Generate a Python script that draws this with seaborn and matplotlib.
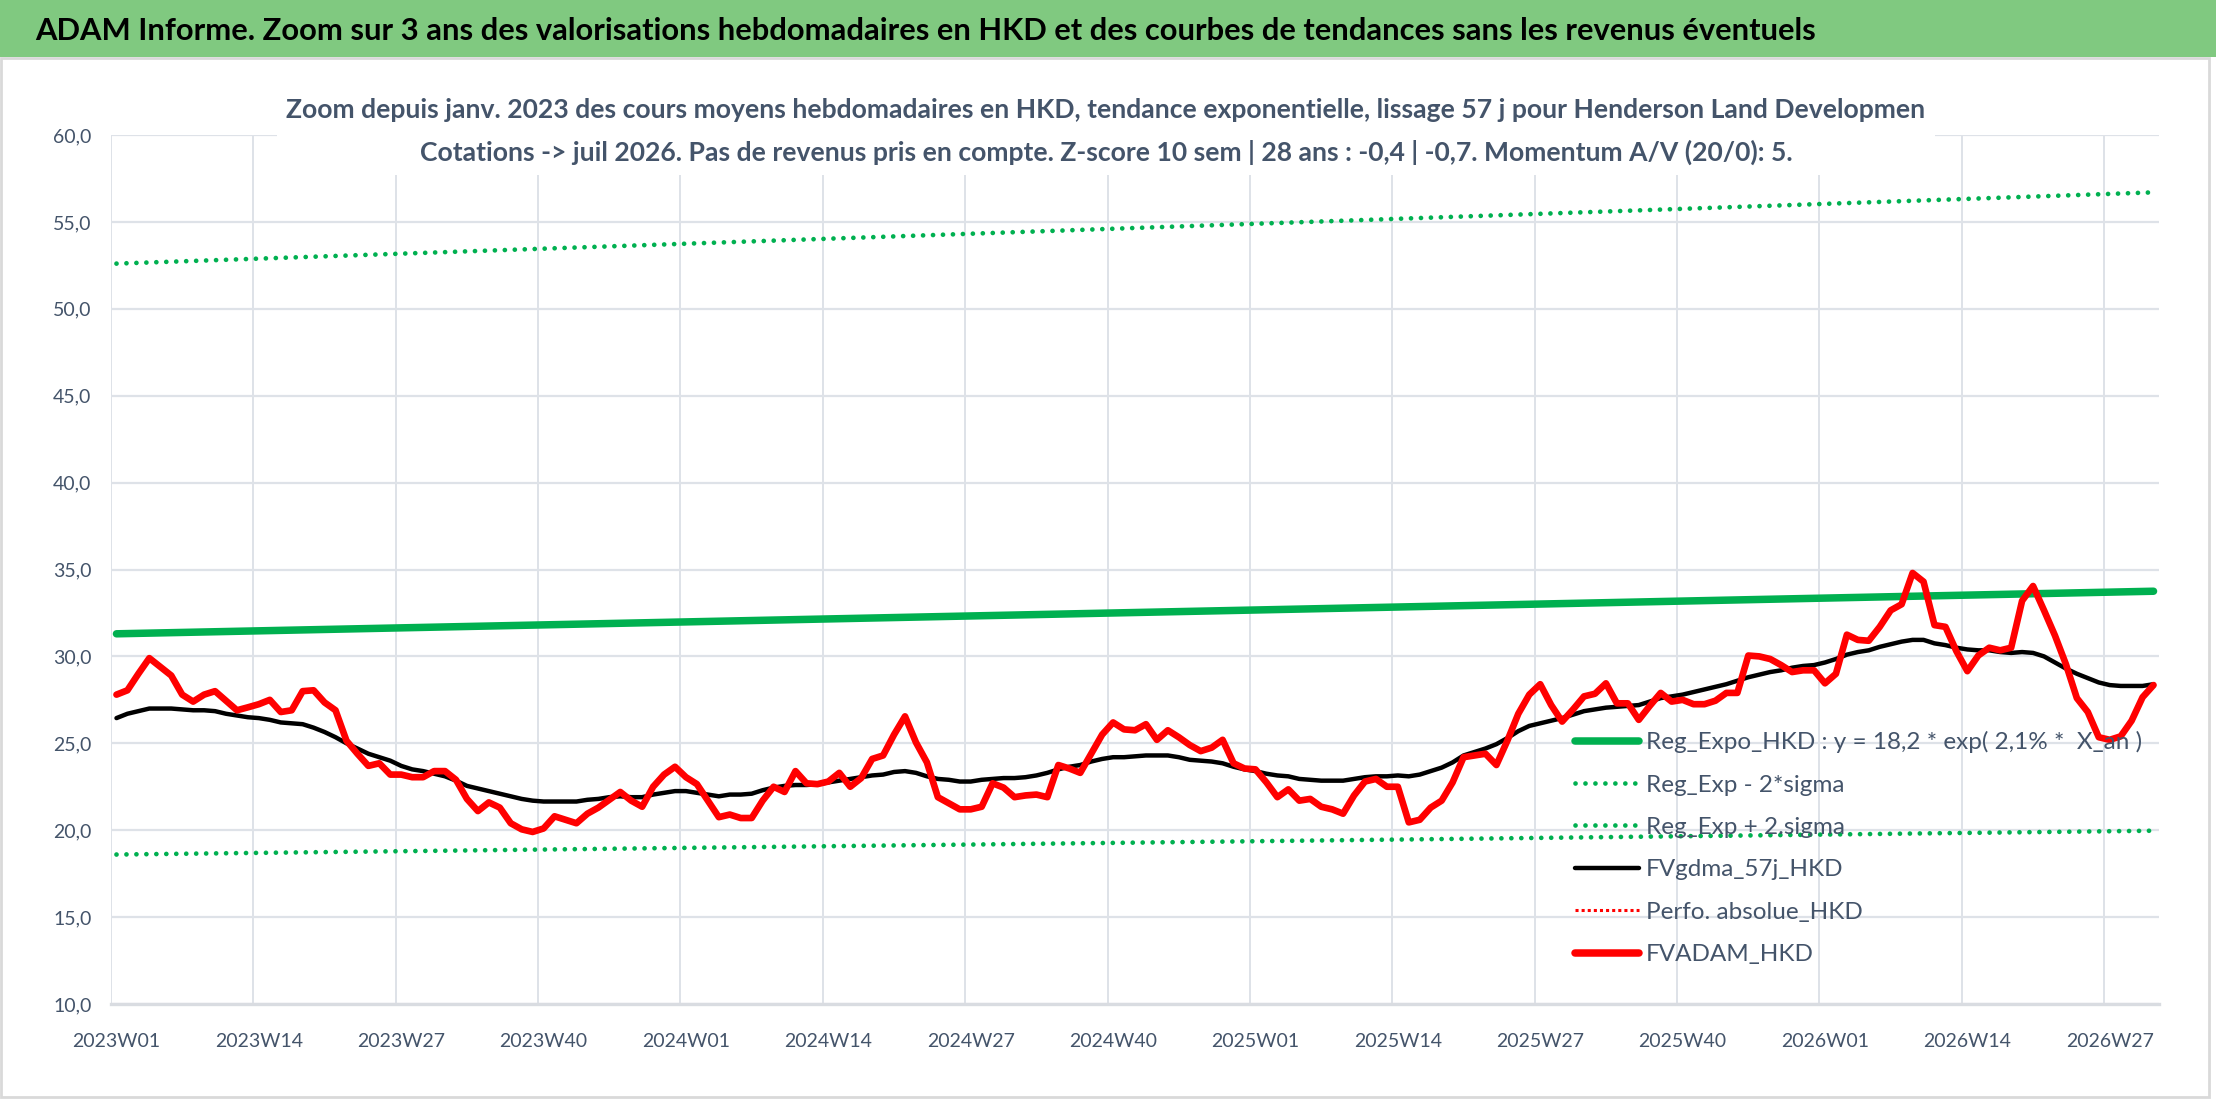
import matplotlib
matplotlib.use('Agg')
import matplotlib.pyplot as plt
from matplotlib.lines import Line2D
from matplotlib.patches import Rectangle
from matplotlib.ticker import FixedLocator, FuncFormatter
import numpy as np
import seaborn as sns

# weekly categories 2023W01 .. 2026W31
weeks = ['%dW%02d' % (y, w) for y in (2023, 2024, 2025, 2026) for w in range(1, 53)][:187]
tick_labels = ['2023W01', '2023W14', '2023W27', '2023W40', '2024W01', '2024W14', '2024W27', '2024W40',
               '2025W01', '2025W14', '2025W27', '2025W40', '2026W01', '2026W14', '2026W27']

fvadam = [27.8, 28.05, 29.0, 29.9, 29.4, 28.9, 27.8, 27.4, 27.8, 28.0,
          27.45, 26.9, 27.07, 27.25, 27.5, 26.8, 26.9, 28.0, 28.05, 27.35,
          26.9, 25.15, 24.4, 23.7, 23.85, 23.2, 23.2, 23.05, 23.05, 23.4,
          23.4, 22.9, 21.8, 21.1, 21.6, 21.3, 20.4, 20.05, 19.9, 20.1,
          20.8, 20.6, 20.4, 20.95, 21.3, 21.75, 22.2, 21.7, 21.35, 22.5,
          23.2, 23.65, 23.05, 22.65, 21.7, 20.75, 20.9, 20.7, 20.7, 21.7,
          22.5, 22.2, 23.4, 22.7, 22.65, 22.8, 23.3, 22.5, 23.0, 24.1,
          24.3, 25.5, 26.55, 25.05, 23.9, 21.9, 21.55, 21.2, 21.2, 21.35,
          22.7, 22.45, 21.9, 22.0, 22.05, 21.9, 23.75, 23.55, 23.3, 24.4,
          25.5, 26.2, 25.8, 25.75, 26.1, 25.2, 25.75, 25.35, 24.9, 24.55,
          24.75, 25.2, 23.85, 23.55, 23.5, 22.75, 21.9, 22.35, 21.7, 21.8,
          21.35, 21.2, 20.95, 22.0, 22.8, 22.95, 22.5, 22.5, 20.45, 20.6,
          21.3, 21.7, 22.75, 24.2, 24.3, 24.4, 23.75, 25.15, 26.7, 27.8,
          28.4, 27.2, 26.25, 26.95, 27.7, 27.85, 28.45, 27.3, 27.3, 26.35,
          27.15, 27.9, 27.4, 27.5, 27.25, 27.25, 27.45, 27.9, 27.9, 30.05,
          30.0, 29.85, 29.5, 29.1, 29.2, 29.2, 28.45, 29.0, 31.25, 30.95,
          30.9, 31.7, 32.65, 33.0, 34.8, 34.3, 31.8, 31.7, 30.3, 29.15,
          30.05, 30.5, 30.35, 30.5, 33.2, 34.05, 32.65, 31.2, 29.55, 27.6,
          26.8, 25.35, 25.2, 25.4, 26.3, 27.65, 28.35]

fvgdma = [26.45, 26.7, 26.85, 27.0, 27.0, 27.0, 26.95, 26.9, 26.9, 26.85,
          26.7, 26.6, 26.5, 26.45, 26.35, 26.2, 26.15, 26.1, 25.9, 25.65,
          25.35, 25.0, 24.7, 24.4, 24.2, 24.0, 23.7, 23.5, 23.4, 23.25,
          23.1, 22.85, 22.55, 22.4, 22.25, 22.1, 21.95, 21.8, 21.7, 21.65,
          21.65, 21.65, 21.65, 21.75, 21.8, 21.9, 21.95, 21.9, 21.9, 22.05,
          22.15, 22.25, 22.25, 22.15, 22.05, 21.95, 22.05, 22.05, 22.1, 22.3,
          22.45, 22.55, 22.6, 22.6, 22.65, 22.75, 22.85, 22.95, 23.05, 23.15,
          23.2, 23.35, 23.4, 23.3, 23.1, 22.95, 22.9, 22.8, 22.8, 22.9,
          22.95, 23.0, 23.0, 23.05, 23.15, 23.3, 23.5, 23.65, 23.75, 23.95,
          24.1, 24.2, 24.2, 24.25, 24.3, 24.3, 24.3, 24.2, 24.05, 24.0,
          23.95, 23.85, 23.65, 23.5, 23.4, 23.25, 23.15, 23.1, 22.95, 22.9,
          22.85, 22.85, 22.85, 22.95, 23.05, 23.1, 23.1, 23.15, 23.1, 23.2,
          23.4, 23.6, 23.9, 24.3, 24.5, 24.7, 24.95, 25.3, 25.7, 26.0,
          26.15, 26.3, 26.45, 26.65, 26.85, 26.95, 27.05, 27.1, 27.15, 27.2,
          27.4, 27.6, 27.7, 27.8, 27.95, 28.1, 28.25, 28.4, 28.6, 28.8,
          28.95, 29.1, 29.2, 29.35, 29.45, 29.5, 29.65, 29.85, 30.1, 30.25,
          30.35, 30.55, 30.7, 30.85, 30.95, 30.95, 30.75, 30.65, 30.5, 30.4,
          30.35, 30.35, 30.25, 30.2, 30.25, 30.2, 30.0, 29.65, 29.3, 29.0,
          28.75, 28.5, 28.35, 28.3, 28.3, 28.3, 28.4]

# trend lines: values at first and last week
reg_expo = [31.3, 33.75]
reg_minus = [18.6, 19.97]
reg_plus = [52.6, 56.7]

legend_labels = ['Reg_Expo_HKD : y = 18,2 * exp( 2,1% *  X_an )', 'Reg_Exp - 2*sigma',
                 'Reg_Exp + 2.sigma', 'FVgdma_57j_HKD', 'Perfo. absolue_HKD', 'FVADAM_HKD']
title = ('ADAM Informe. Zoom sur 3 ans des valorisations hebdomadaires en HKD '
         'et des courbes de tendances sans les revenus éventuels')
subtitle = ('Zoom depuis janv. 2023 des cours moyens hebdomadaires en HKD, tendance exponentielle, '
            'lissage 57 j pour Henderson Land Developmen\n'
            'Cotations -> juil 2026. Pas de revenus pris en compte. Z-score 10 sem | 28 ans : '
            '-0,4 | -0,7. Momentum A/V (20/0): 5.')

GREEN = '#00B050'
TXT = '#44546A'
W, H = 2216, 1102

sns.set_theme(style='white')
plt.rcParams['font.family'] = ['Lato', 'DejaVu Sans']

fig = plt.figure(figsize=(W / 100, H / 100), dpi=100)
renderer = fig.canvas.get_renderer()


def size_for(text, width_px, weight='normal'):
    t = fig.text(0, 0, text, fontsize=10, fontweight=weight)
    bb = t.get_window_extent(renderer)
    t.remove()
    return 10 * width_px / bb.width, bb.height * width_px / bb.width


ax = fig.add_axes([111 / W, 98 / H, 2048 / W, 869 / H])

x = np.arange(len(weeks))
ends = [x[0], x[-1]]
dots = (0, (0.01, 2.1))
sns.lineplot(x=ends, y=reg_plus, ax=ax, color=GREEN, lw=3.4, linestyle=dots, dash_capstyle='round')
sns.lineplot(x=ends, y=reg_minus, ax=ax, color=GREEN, lw=3.4, linestyle=dots, dash_capstyle='round')
sns.lineplot(x=ends, y=reg_expo, ax=ax, color=GREEN, lw=5.4, solid_capstyle='round')
sns.lineplot(x=x, y=fvgdma, ax=ax, color='black', lw=3.2, solid_capstyle='round')
sns.lineplot(x=x, y=fvadam, ax=ax, color='#FF0000', lw=4.8, solid_capstyle='round',
             solid_joinstyle='round')

tick_fs, tick_h = size_for('2023W01', 88)
ax.set_xlim(-0.5, len(weeks) - 0.5)
ax.set_ylim(10, 60)
ax.set_yticks(np.arange(10, 61, 5))
ax.yaxis.set_major_formatter(FuncFormatter(lambda v, p: ('%.1f' % v).replace('.', ',')))
ax.set_xticks([weeks.index(t) for t in tick_labels])
ax.set_xticklabels(tick_labels)
ax.xaxis.set_minor_locator(FixedLocator([weeks.index(t) - 0.5 for t in tick_labels]))
ax.grid(axis='y', which='major', color='#DEE2E8', lw=1.6)
ax.grid(axis='x', which='minor', color='#DEE2E8', lw=1.4)
ax.grid(axis='x', which='major', visible=False)
ax.set_axisbelow(True)
ax.tick_params(axis='both', which='both', length=0)
ax.tick_params(axis='x', pad=(37 - tick_h / 2) * 0.72, labelsize=tick_fs, colors=TXT)
ax.tick_params(axis='y', pad=14, labelsize=tick_fs, colors=TXT)
ax.set_xlabel('')
ax.set_ylabel('')
for s in ('left', 'top', 'right'):
    ax.spines[s].set_visible(False)
ax.spines['bottom'].set_color('#D9DCE1')
ax.spines['bottom'].set_linewidth(2.4)

handles = [
    Line2D([], [], color=GREEN, lw=5.4, solid_capstyle='round'),
    Line2D([], [], color=GREEN, lw=3.4, linestyle=dots, dash_capstyle='round'),
    Line2D([], [], color=GREEN, lw=3.4, linestyle=dots, dash_capstyle='round'),
    Line2D([], [], color='black', lw=3.2),
    Line2D([], [], color='#FF0000', lw=2.2, linestyle=(0, (1, 1))),
    Line2D([], [], color='#FF0000', lw=5.4, solid_capstyle='round'),
]
leg_fs, leg_h = size_for(legend_labels[0], 494)
leg_px = leg_fs * 100 / 72
ax.legend(handles, legend_labels, loc='upper left',
          bbox_to_anchor=((1575 - 111) / 2048, (1004 - (742 - leg_h / 2)) / 869),
          frameon=False, fontsize=leg_fs, labelcolor=TXT, handlelength=64 / leg_px,
          handletextpad=7 / leg_px, labelspacing=(43.3 - leg_h) / leg_px,
          borderpad=0, borderaxespad=0)

# green banner with main title, light frame around the chart
fig.patches.append(Rectangle((0, 1 - 57 / H), 1, 57 / H, transform=fig.transFigure,
                             facecolor='#80C980', edgecolor='none', zorder=0))
fig.patches.append(Rectangle((0.5 / W, 5 / H), 2208 / W, 1039 / H, transform=fig.transFigure,
                             facecolor='none', edgecolor='#D9D9D9', lw=2, zorder=0))
title_fs, _ = size_for(title, 1781, 'bold')
fig.text(35 / W, 1 - 31 / H, title, fontsize=title_fs, fontweight='bold', color='black',
         va='center', ha='left')

sub_fs, sub_h = size_for(subtitle.split('\n')[0], 1646, 'bold')
fig.text(1106 / W, 1 - 131.5 / H, subtitle, fontsize=sub_fs, fontweight='bold', color=TXT,
         ha='center', va='center', linespacing=43 / sub_h, multialignment='center',
         bbox=dict(facecolor='white', edgecolor='none', pad=7))

fig.savefig('out.png', dpi=100)
